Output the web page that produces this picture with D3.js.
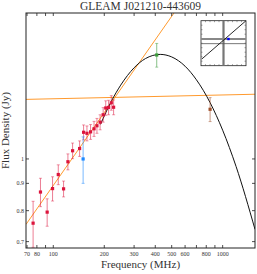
<!DOCTYPE html>
<html lang="en">
<head>
<meta charset="utf-8"/>
<title>GLEAM J021210-443609</title>
<script src="https://cdn.jsdelivr.net/npm/d3@7"></script>
<style>
  body { margin: 0; background: #fff; }
  svg text { font-family: "Liberation Serif", "DejaVu Serif", serif; fill: #333; }
</style>
</head>
<body>
<svg id="chart"></svg>
<script>
// GLEAM sub-band fluxes (MHz, Jy, error)
const gleamFreq = [76, 84, 92, 99, 107, 115, 122, 130, 143, 151, 158, 166, 174, 181, 189, 197, 204, 212, 220, 227]
const gleamFlux = [0.758, 0.867, 0.795, 0.880, 0.935, 0.879, 0.988, 1.036, 1.046, 1.122, 1.117, 1.124, 1.139, 1.154, 1.172, 1.210, 1.246, 1.249, 1.274, 1.250]
const gleamErr  = [0.075, 0.053, 0.047, 0.046, 0.040, 0.030, 0.034, 0.035, 0.035, 0.036, 0.036, 0.036, 0.037, 0.037, 0.038, 0.038, 0.039, 0.039, 0.040, 0.040]

// other surveys
const extraFreq  = [150, 408, 843]
const extraFlux  = [1.0, 1.566, 1.239]
const extraErr   = [0.10, 0.08, 0.064]
const extraColor = ['#1e88ff', '#3a9a3a', '#a0522d']

// fitted models
const steepLine = [[69, 0.754], [516, 1.877]]
const flatLine  = [[69, 1.293], [1552, 1.322]]
const curveFreq = [190, 220, 250, 300, 350, 428, 500, 600, 700, 843, 1000, 1200, 1552]
const curveFlux = [1.161, 1.282, 1.375, 1.482, 1.542, 1.570, 1.553, 1.492, 1.407, 1.275, 1.132, 0.968, 0.738]

const xTicks = [70, 80, 90, 100, 200, 300, 400, 500, 600, 700, 800, 900, 1000]
const xLabels = [70, 80, 100, 200, 300, 400, 500, 600, 800, 1000]
const yTicks = [0.7, 0.8, 0.9, 1]

// inset (position plot), unit square coords
const insetDiag = [[0.02, 0.15], [1.0, 1.0]]
const insetVert = 0.5
const insetHoriz = [0.593, 0.49]
const insetDot = [0.61, 0.593]

const width = 257, height = 274
const m = {left: 26, right: 2, top: 13, bottom: 26}

const svg = d3.select('#chart').attr('width', width).attr('height', height)

const x = d3.scaleLog().domain([69, 1552]).range([m.left, width - m.right])
const y = d3.scaleLog().domain([0.681, 1.877]).range([height - m.bottom, m.top])

svg.append('clipPath').attr('id', 'clip')
  .append('rect')
  .attr('x', m.left).attr('y', m.top)
  .attr('width', width - m.left - m.right).attr('height', height - m.top - m.bottom)

const plot = svg.append('g').attr('clip-path', 'url(#clip)')

const line = d3.line().x(d => x(d[0])).y(d => y(d[1]))

// orange power-law fits
plot.selectAll('.fit')
  .data([steepLine, flatLine])
  .enter().append('path')
  .attr('d', line)
  .attr('fill', 'none')
  .attr('stroke', '#ff9a2e')
  .attr('stroke-width', 1)

// curved model
plot.append('path')
  .datum(curveFreq.map((f, i) => [f, curveFlux[i]]))
  .attr('d', line.curve(d3.curveMonotoneX))
  .attr('fill', 'none')
  .attr('stroke', '#111')
  .attr('stroke-width', 1)

function errPoint(g, f, s, e, col, barCol) {
  const cx = x(f)
  g.append('line')
    .attr('x1', cx).attr('x2', cx)
    .attr('y1', y(s + e)).attr('y2', y(Math.max(s - e, 0.5)))
    .attr('stroke', barCol).attr('stroke-width', 1)
  ;[s + e, s - e].forEach(v => {
    g.append('line')
      .attr('x1', cx - 1.5).attr('x2', cx + 1.5)
      .attr('y1', y(v)).attr('y2', y(v))
      .attr('stroke', barCol).attr('stroke-width', 0.8)
  })
  g.append('rect')
    .attr('x', cx - 1.6).attr('y', y(s) - 1.6)
    .attr('width', 3.2).attr('height', 3.2)
    .attr('fill', col)
}

gleamFreq.forEach((f, i) => errPoint(plot, f, gleamFlux[i], gleamErr[i], '#dc143c', 'rgba(220,20,60,0.55)'))
extraFreq.forEach((f, i) => errPoint(plot, f, extraFlux[i], extraErr[i], extraColor[i],
  d3.color(extraColor[i]).copy({opacity: 0.6}).toString()))

// axes frame
svg.append('rect')
  .attr('x', m.left).attr('y', m.top)
  .attr('width', width - m.left - m.right).attr('height', height - m.top - m.bottom)
  .attr('fill', 'none').attr('stroke', '#222').attr('stroke-width', 1)

const tk = 3
const ticks = svg.append('g').attr('stroke', '#222').attr('stroke-width', 0.8)
xTicks.forEach(t => {
  ticks.append('line').attr('x1', x(t)).attr('x2', x(t))
    .attr('y1', height - m.bottom).attr('y2', height - m.bottom - tk)
  ticks.append('line').attr('x1', x(t)).attr('x2', x(t))
    .attr('y1', m.top).attr('y2', m.top + tk)
})
yTicks.forEach(t => {
  ticks.append('line').attr('x1', m.left).attr('x2', m.left + tk)
    .attr('y1', y(t)).attr('y2', y(t))
  ticks.append('line').attr('x1', width - m.right).attr('x2', width - m.right - tk)
    .attr('y1', y(t)).attr('y2', y(t))
})

svg.append('g').selectAll('text')
  .data(xLabels).enter().append('text')
  .attr('x', d => x(d)).attr('y', height - m.bottom + 8)
  .attr('text-anchor', 'middle')
  .attr('font-size', 6)
  .text(d => d)

svg.append('g').selectAll('text')
  .data(yTicks).enter().append('text')
  .attr('x', m.left - 2).attr('y', d => y(d) + 2)
  .attr('text-anchor', 'end')
  .attr('font-size', 6)
  .text(d => d)

svg.append('text')
  .attr('x', (m.left + width - m.right) / 2).attr('y', 10)
  .attr('text-anchor', 'middle')
  .attr('font-size', 11.5)
  .text('GLEAM J021210-443609')

svg.append('text')
  .attr('x', (m.left + width - m.right) / 2).attr('y', 268)
  .attr('text-anchor', 'middle')
  .attr('font-size', 11)
  .text('Frequency (MHz)')

svg.append('text')
  .attr('transform', `translate(9,${(m.top + height - m.bottom) / 2}) rotate(-90)`)
  .attr('text-anchor', 'middle')
  .attr('font-size', 11)
  .text('Flux Density (Jy)')

// inset
const ix = d3.scaleLinear().domain([0, 1]).range([201, 246])
const iy = d3.scaleLinear().domain([0, 1]).range([65.7, 20.7])
const inset = svg.append('g')
inset.append('rect')
  .attr('x', ix(0)).attr('y', iy(1))
  .attr('width', ix(1) - ix(0)).attr('height', iy(0) - iy(1))
  .attr('fill', '#fff').attr('stroke', '#222').attr('stroke-width', 0.8)
d3.range(1, 10).forEach(i => {
  const t = i / 10
  inset.append('line').attr('x1', ix(t)).attr('x2', ix(t)).attr('y1', iy(0)).attr('y2', iy(0) - 1.5).attr('stroke', '#444').attr('stroke-width', 0.5)
  inset.append('line').attr('x1', ix(t)).attr('x2', ix(t)).attr('y1', iy(1)).attr('y2', iy(1) + 1.5).attr('stroke', '#444').attr('stroke-width', 0.5)
  inset.append('line').attr('y1', iy(t)).attr('y2', iy(t)).attr('x1', ix(0)).attr('x2', ix(0) + 1.5).attr('stroke', '#444').attr('stroke-width', 0.5)
  inset.append('line').attr('y1', iy(t)).attr('y2', iy(t)).attr('x1', ix(1)).attr('x2', ix(1) - 1.5).attr('stroke', '#444').attr('stroke-width', 0.5)
})
inset.append('line')
  .attr('x1', ix(insetVert)).attr('x2', ix(insetVert)).attr('y1', iy(0)).attr('y2', iy(1))
  .attr('stroke', '#777').attr('stroke-width', 2.2)
inset.append('line')
  .attr('x1', ix(0)).attr('x2', ix(1)).attr('y1', iy(insetHoriz[0])).attr('y2', iy(insetHoriz[0]))
  .attr('stroke', '#888').attr('stroke-width', 1.8)
inset.append('line')
  .attr('x1', ix(0)).attr('x2', ix(1)).attr('y1', iy(insetHoriz[1])).attr('y2', iy(insetHoriz[1]))
  .attr('stroke', '#555').attr('stroke-width', 0.8)
inset.append('path')
  .datum(insetDiag)
  .attr('d', d3.line().x(d => ix(d[0])).y(d => iy(d[1])))
  .attr('stroke', '#111').attr('stroke-width', 0.9)
inset.append('rect')
  .attr('x', ix(insetDot[0]) - 1.2).attr('y', iy(insetDot[1]) - 1.2)
  .attr('width', 2.4).attr('height', 2.4)
  .attr('fill', '#0000ff')
</script>
</body>
</html>
